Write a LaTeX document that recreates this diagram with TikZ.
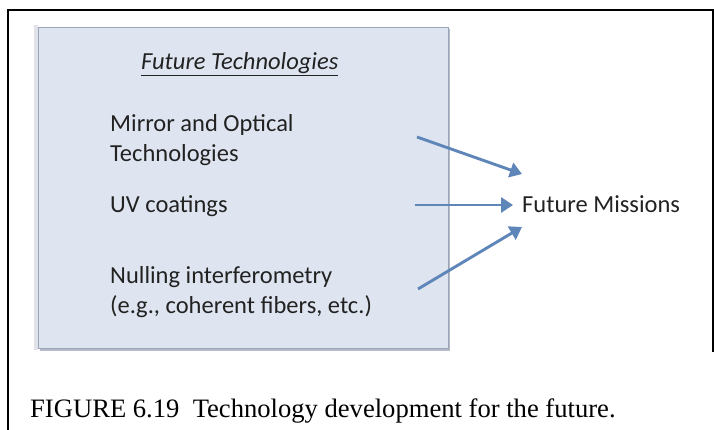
\documentclass[tikz,border=0pt]{standalone}
\usepackage{fontspec}
\setmainfont{Carlito}
\newfontfamily\capfont{Liberation Serif}
\usetikzlibrary{arrows.meta}
\definecolor{boxfill}{HTML}{DFE5F0}
\definecolor{boxline}{HTML}{9CA5B8}
\definecolor{boxshadow}{HTML}{B4BAC6}
\definecolor{arrowblue}{HTML}{5F86B8}
\definecolor{textgray}{HTML}{222222}
\begin{document}
\begin{tikzpicture}[x=1pt,y=-1pt,
  item/.style={anchor=base west,inner sep=0pt,font=\fontsize{24.5}{30}\selectfont,text=textgray,align=left},
  conn/.style={draw=arrowblue,line width=2.9pt,-{Triangle[length=12pt,width=15pt]}},
]
\useasboundingbox (0,0) rectangle (714,430);
% outer frame
\draw[line width=1.6pt] (8,430) -- (8,10) -- (713,10) -- (713,352);
% box with soft shadow
\fill[boxshadow] (40,29) rectangle (450,351);
\fill[white!60!boxshadow] (34,25) rectangle (38,350);
\draw[boxline,fill=boxfill,line width=0.8pt] (38,27) rectangle (448,348);
% texts (base anchor = baseline of last line)
\node[item] (title) at (141,70) {\itshape\underline{Future Technologies}};
\node[item] (mirror) at (110,162) {Mirror and Optical\\Technologies};
\node[item] (uv) at (110,213) {UV coatings};
\node[item] (null) at (110,313) {Nulling interferometry\\(e.g., coherent fibers, etc.)};
\node[item] (fm) at (522,213) {Future Missions};
% arrow endpoints
\coordinate (s1) at (417,137);
\coordinate (s2) at (415,205);
\coordinate (s3) at (418,289);
\coordinate (e1) at (522,174);
\coordinate (e2) at (513,205);
\coordinate (e3) at (522,227);
\draw[conn] (s1) -- (e1);
\draw[conn] (s2) -- (e2);
\draw[conn] (s3) -- (e3);
% caption
\node[anchor=base west,inner sep=0pt,font=\capfont\fontsize{26.6}{30}\selectfont] (cap) at (30,417) {FIGURE 6.19\ \ Technology development for the future.};
\end{tikzpicture}
\end{document}
